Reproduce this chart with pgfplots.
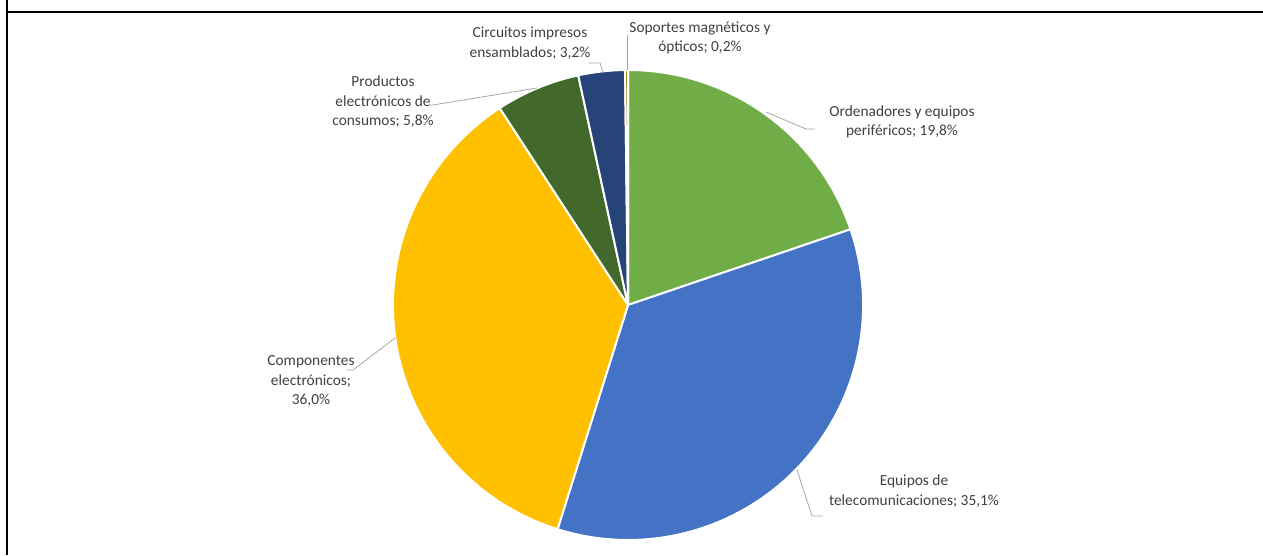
\documentclass[border=0pt]{standalone}
\usepackage{pgfplots}
\usepackage{pgfplotstable}
\pgfplotsset{compat=1.18}
\usepackage{fontspec}
\setmainfont{Carlito}
\definecolor{c1}{HTML}{70AD47}
\definecolor{c2}{HTML}{4472C4}
\definecolor{c3}{HTML}{FFC000}
\definecolor{c4}{HTML}{43682B}
\definecolor{c5}{HTML}{264478}
\definecolor{c6}{HTML}{997300}
\definecolor{txt}{HTML}{404040}
\definecolor{lead}{HTML}{A6A6A6}
\pgfplotstableread{
value color
19.8 c1
35.1 c2
36.0 c3
5.8 c4
3.2 c5
0.2 c6
}\piedata
\begin{document}
\begin{tikzpicture}
\begin{axis}[name=ax, scale only axis, width=1263pt, height=555pt,
  xmin=0, xmax=1263, ymin=0, ymax=555, hide axis, clip=false]
\def\cum{0}
\pgfplotsforeachungrouped \i in {0,...,5}{%
  \pgfplotstablegetelem{\i}{value}\of\piedata \let\myv\pgfplotsretval
  \pgfplotstablegetelem{\i}{color}\of\piedata \let\myc\pgfplotsretval
  \pgfmathsetmacro\myA{90-\cum/100.1*360}%
  \pgfmathsetmacro\cum{\cum+\myv}%
  \pgfmathsetmacro\myB{90-\cum/100.1*360}%
  \edef\temp{\noexpand\fill[\myc, draw=white, line width=2pt, line join=round] (axis cs:628,250) -- ++(\myA:235pt) arc[start angle=\myA, end angle=\myB, radius=235pt] -- cycle;}%
  \temp
}
% leader lines
\draw[lead, line width=0.8pt] (axis cs:589,492) -- (axis cs:600,492) -- (axis cs:603,483);
\draw[lead, line width=0.8pt] (axis cs:627,520) -- (axis cs:627,485);
\draw[lead, line width=0.8pt] (axis cs:430,450) -- (axis cs:433,450) -- (axis cs:537,467);
\draw[lead, line width=0.8pt] (axis cs:766,443) -- (axis cs:806,426) -- (axis cs:815,426);
\draw[lead, line width=0.8pt] (axis cs:347,185) -- (axis cs:353,185) -- (axis cs:395,217);
\draw[lead, line width=0.8pt] (axis cs:797,85) -- (axis cs:812,39) -- (axis cs:823,39);
% labels
\begin{scope}[every node/.style={font=\fontsize{15.4}{19.5}\selectfont, text=txt, align=center, inner sep=0pt}]
\node at (axis cs:530,512) {Circuitos impresos\\ensamblados; 3,2\%};
\node at (axis cs:700,517) {Soportes magnéticos y\\ópticos; 0,2\%};
\node at (axis cs:383,453) {Productos\\electrónicos de\\consumos; 5,8\%};
\node at (axis cs:902,433) {Ordenadores y equipos\\periféricos; 19,8\%};
\node at (axis cs:311,174) {Componentes\\electrónicos;\\36,0\%};
\node at (axis cs:914,64) {Equipos de\\telecomunicaciones; 35,1\%};
\end{scope}
% frame
\draw[black, line width=2.2pt] (axis cs:7,555) -- (axis cs:7,0);
\draw[black, line width=2.2pt] (axis cs:7,543) -- (axis cs:1263,543);
\end{axis}
\pgfresetboundingbox
\path[use as bounding box] (ax.south west) rectangle (ax.north east);
\end{tikzpicture}
\end{document}
